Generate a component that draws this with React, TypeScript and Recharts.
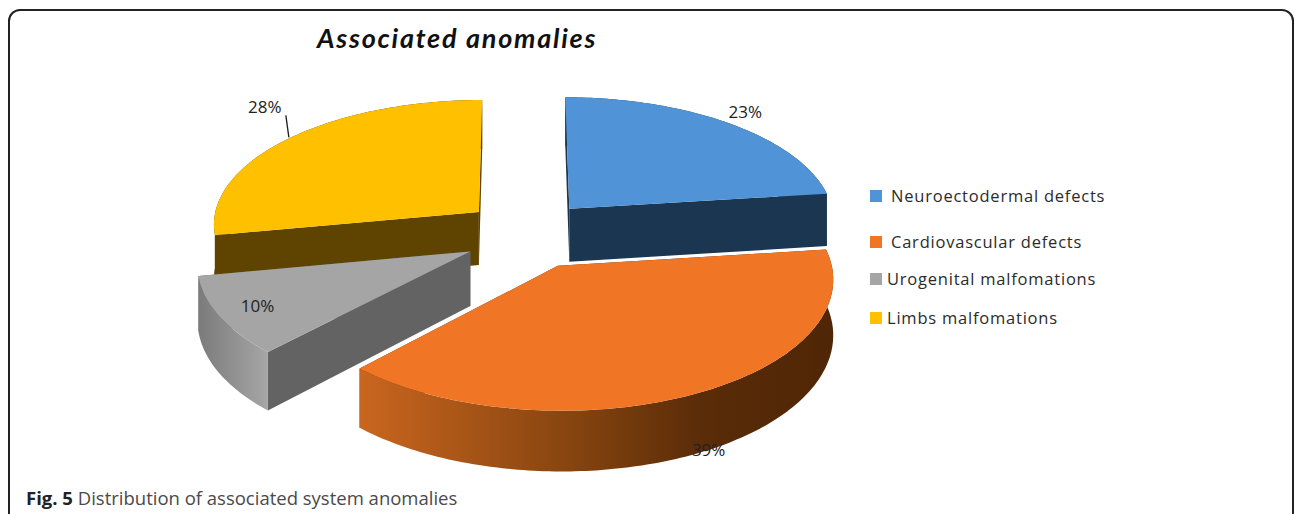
import { Legend, Pie, PieChart } from 'recharts';

const categories = [
  'Neuroectodermal defects',
  'Cardiovascular defects',
  'Urogenital malfomations',
  'Limbs malfomations',
];
const shares = [23, 39, 10, 28];
const topColors = ['#5093d6', '#f07525', '#a5a5a5', '#ffc000'];
const sideColors = ['#1b3650', '#5a2c08', '#636363', '#5f4300'];
const rimColors = ['#1b3650', 'url(#orangeRim)', 'url(#grayRim)', '#5f4300'];

// how far each slice is pulled out (px on the ground plane) and towards which bearing
const pullBy = [76, 74, 60, 65];
const pullBearing = [41.4, 150, 235, 320];
// label nudge from the middle of the outer edge, in px
const labelNudge = [
  [16, -12],
  [12, 56],
  [38, -11],
  [-24, -32],
];
const legendTops = [186, 232, 269, 308];
const legendLeft = [21, 21, 17, 17];

const WIDTH = 1295;
const HEIGHT = 514;
const CX = 520;
const CY = 235;
const RADIUS = 268;
const TILT = 0.47;
const PERSPECTIVE = 0.09;
const DEPTH = 54;
const FONT = '"Open Sans", sans-serif';

// Pie draws in data order, so start at the slice that sits furthest back
const firstDrawn = 3;
const total = shares.reduce((a, b) => a + b, 0);
const offsetShare = shares.slice(0, firstDrawn).reduce((a, b) => a + b, 0) / total;
const startAngle = 90 - offsetShare * 360;

const order = [3, 0, 1, 2];
const tableData = order.map((i) => ({ name: categories[i], value: shares[i] }));

// ground plane point -> screen, u to the right, v towards the viewer
function project(u: number, v: number, lift = 0) {
  const d = 1 - (PERSPECTIVE * v) / RADIUS;
  return { x: CX + u / d, y: CY + (TILT * v + lift) / d };
}

function groundPoint(theta: number, r: number, idx: number) {
  const t = (theta * Math.PI) / 180;
  const m = (pullBearing[idx] * Math.PI) / 180;
  return {
    u: r * Math.sin(t) + pullBy[idx] * Math.sin(m),
    v: -r * Math.cos(t) - pullBy[idx] * Math.cos(m),
  };
}

function toPath(points: { x: number; y: number }[]) {
  return points.map((p, i) => `${i ? 'L' : 'M'}${p.x.toFixed(1)} ${p.y.toFixed(1)}`).join(' ') + ' Z';
}

function SliceShape(props: any) {
  const idx = categories.indexOf(props.name);
  const a0 = 90 - props.startAngle;
  const a1 = 90 - props.endAngle;
  const steps = Math.ceil(Math.abs(a1 - a0));

  const apex = groundPoint(0, 0, idx);
  const edge: { u: number; v: number }[] = [];
  for (let s = 0; s <= steps; s++) {
    edge.push(groundPoint(a0 + ((a1 - a0) * s) / steps, props.outerRadius, idx));
  }
  const upper = edge.map((p) => project(p.u, p.v));
  const lower = edge.map((p) => project(p.u, p.v, DEPTH));
  const apexUp = project(apex.u, apex.v);
  const apexDown = project(apex.u, apex.v, DEPTH);

  const wall = (i: number) => toPath([apexUp, upper[i], lower[i], apexDown]);

  return (
    <g>
      <path d={wall(0)} fill={sideColors[idx]} />
      <path d={wall(steps)} fill={sideColors[idx]} />
      <path d={toPath([...upper, ...[...lower].reverse()])} fill={rimColors[idx]} />
      <path d={toPath([apexUp, ...upper])} fill={topColors[idx]} />
    </g>
  );
}

function SliceLabel(props: any) {
  const idx = categories.indexOf(props.name);
  const theta = 90 - props.midAngle;
  const p = groundPoint(theta, props.outerRadius, idx);
  const base = project(p.u, p.v);
  const x = base.x + labelNudge[idx][0];
  const y = base.y + labelNudge[idx][1];
  return (
    <g>
      {idx === 3 && (
        <line x1={x + 21} y1={y + 9} x2={x + 24} y2={y + 31} stroke="#1a1a1a" strokeWidth={1.3} />
      )}
      <text x={x} y={y} textAnchor="middle" dominantBaseline="central" fontFamily={FONT} fontSize={17} fill="#222">
        {`${props.value}%`}
      </text>
    </g>
  );
}

function LegendList() {
  return (
    <div style={{ position: 'relative', fontFamily: FONT, fontSize: 16.5, letterSpacing: 0.78, color: '#2b2b2b' }}>
      {categories.map((name, i) => (
        <div key={name} style={{ position: 'absolute', left: 0, top: legendTops[i] - legendTops[0], whiteSpace: 'nowrap', lineHeight: '20px' }}>
          <span style={{ position: 'absolute', left: 0, top: 4, width: 12, height: 12, background: topColors[i] }} />
          <span style={{ position: 'absolute', left: legendLeft[i] }}>{name}</span>
        </div>
      ))}
    </div>
  );
}

export default function App() {
  return (
    <div style={{ position: 'absolute', left: 0, top: 0, width: WIDTH, height: HEIGHT, background: '#fff', overflow: 'hidden' }}>
      <div
        style={{
          position: 'absolute',
          left: 8,
          top: 9,
          width: 1286,
          height: 520,
          border: '2px solid #222',
          borderRadius: 12,
          boxSizing: 'border-box',
        }}
      />
      <PieChart width={WIDTH} height={HEIGHT} style={{ position: 'absolute', left: 0, top: 0 }}>
        <defs>
          <linearGradient id="orangeRim" x1="0" y1="0" x2="1" y2="0">
            <stop offset="0%" stopColor="#c9661f" />
            <stop offset="45%" stopColor="#86440f" />
            <stop offset="72%" stopColor="#5a2c08" />
            <stop offset="100%" stopColor="#4f2606" />
          </linearGradient>
          <linearGradient id="grayRim" x1="0" y1="0" x2="1" y2="0">
            <stop offset="0%" stopColor="#7b7b7b" />
            <stop offset="100%" stopColor="#a6a6a6" />
          </linearGradient>
        </defs>
        <Pie
          data={tableData}
          dataKey="value"
          nameKey="name"
          cx={CX}
          cy={CY}
          outerRadius={RADIUS}
          startAngle={startAngle}
          endAngle={startAngle - 360}
          isAnimationActive={false}
          shape={SliceShape}
          label={SliceLabel}
          labelLine={false}
          stroke="none"
        />
        <Legend content={LegendList} wrapperStyle={{ position: 'absolute', left: 870, top: 186, width: 260, bottom: 'auto' }} />
      </PieChart>
      <div
        style={{
          position: 'absolute',
          left: 317,
          top: 21,
          fontFamily: 'Lato, sans-serif',
          fontWeight: 700,
          fontStyle: 'italic',
          fontSize: 27,
          letterSpacing: 1.75,
          color: '#111',
        }}
      >
        Associated anomalies
      </div>
      <div style={{ position: 'absolute', left: 26, top: 485, fontFamily: FONT, fontSize: 18.5, color: '#4a4a4a' }}>
        <b style={{ color: '#222' }}>Fig. 5</b> Distribution of associated system anomalies
      </div>
    </div>
  );
}
